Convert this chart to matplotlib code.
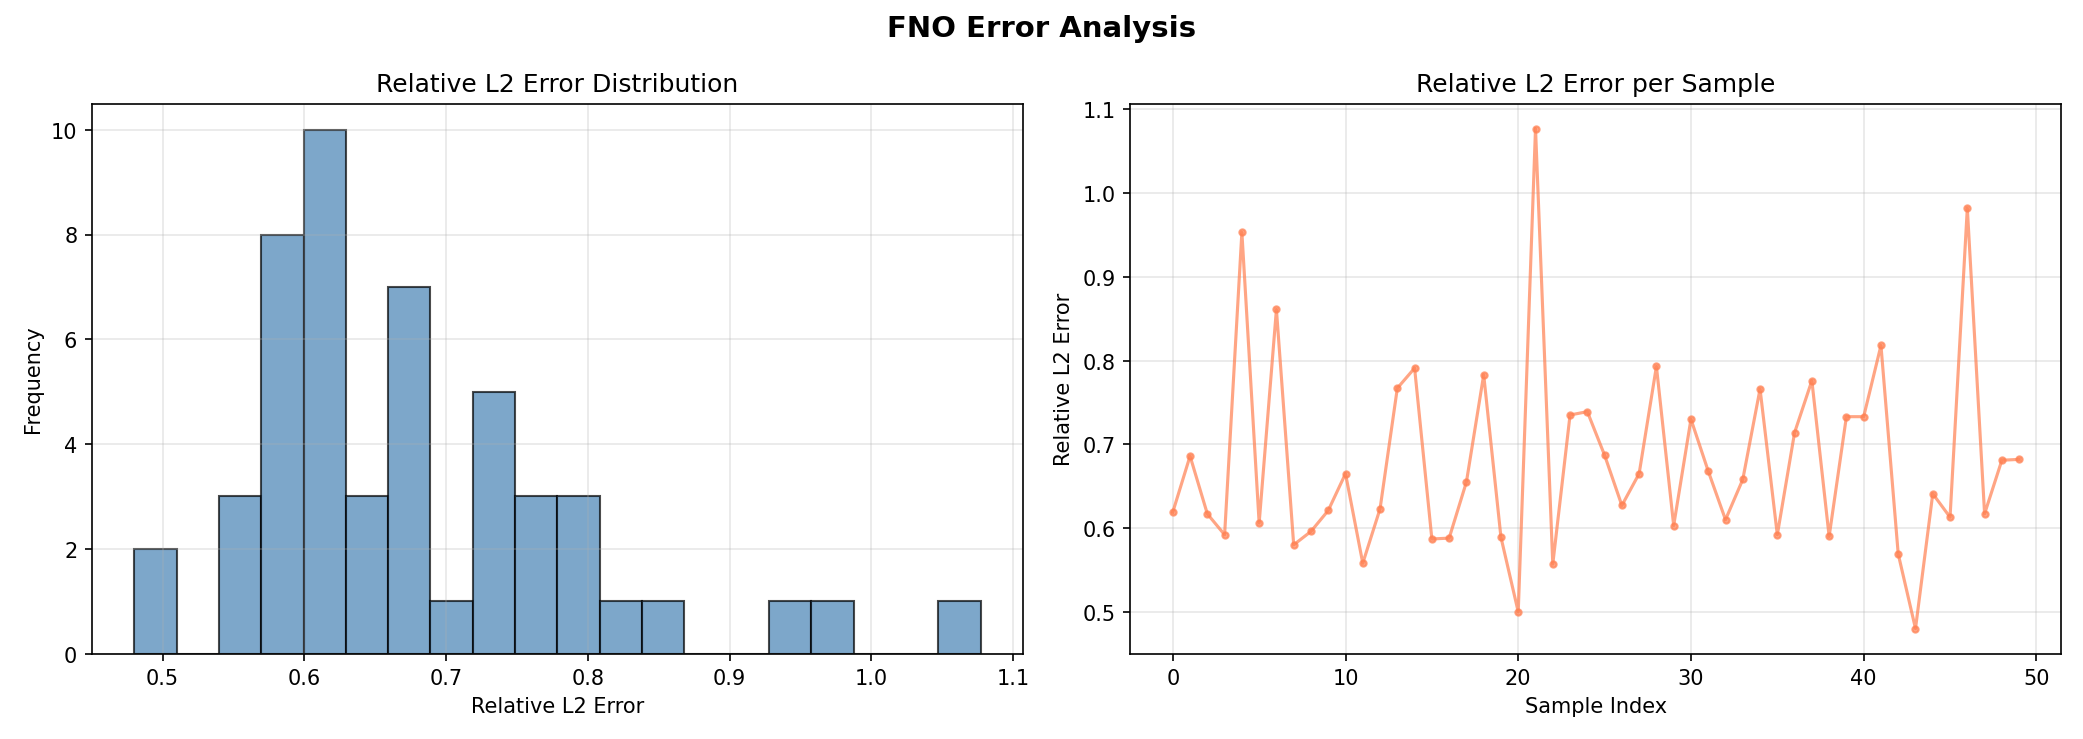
import matplotlib
matplotlib.use("Agg")
import matplotlib.pyplot as plt
import numpy as np

errors = [0.619, 0.686, 0.617, 0.592, 0.953, 0.606, 0.861, 0.580, 0.596, 0.621,
          0.665, 0.558, 0.623, 0.767, 0.791, 0.587, 0.588, 0.655, 0.783, 0.589,
          0.500, 1.077, 0.557, 0.735, 0.739, 0.687, 0.627, 0.665, 0.793, 0.603,
          0.730, 0.668, 0.610, 0.658, 0.766, 0.592, 0.714, 0.776, 0.590, 0.733,
          0.733, 0.818, 0.569, 0.480, 0.641, 0.613, 0.982, 0.617, 0.681, 0.682]
idx = np.arange(len(errors))

fig, (ax1, ax2) = plt.subplots(1, 2, figsize=(13.893, 4.933), dpi=150)
ax1.hist(errors, bins=20, color='steelblue', alpha=0.7, edgecolor='black')
ax1.set_title('Relative L2 Error Distribution')
ax1.set_xlabel('Relative L2 Error')
ax1.set_ylabel('Frequency')
ax1.grid(True, alpha=0.3)

ax2.plot(idx, errors, 'o-', color='coral', alpha=0.7, markersize=3)
ax2.set_title('Relative L2 Error per Sample')
ax2.set_xlabel('Sample Index')
ax2.set_ylabel('Relative L2 Error')
ax2.grid(True, alpha=0.3)

fig.suptitle('FNO Error Analysis', fontsize=14, fontweight='bold')
fig.tight_layout()
fig.savefig('out.png', dpi=150)
